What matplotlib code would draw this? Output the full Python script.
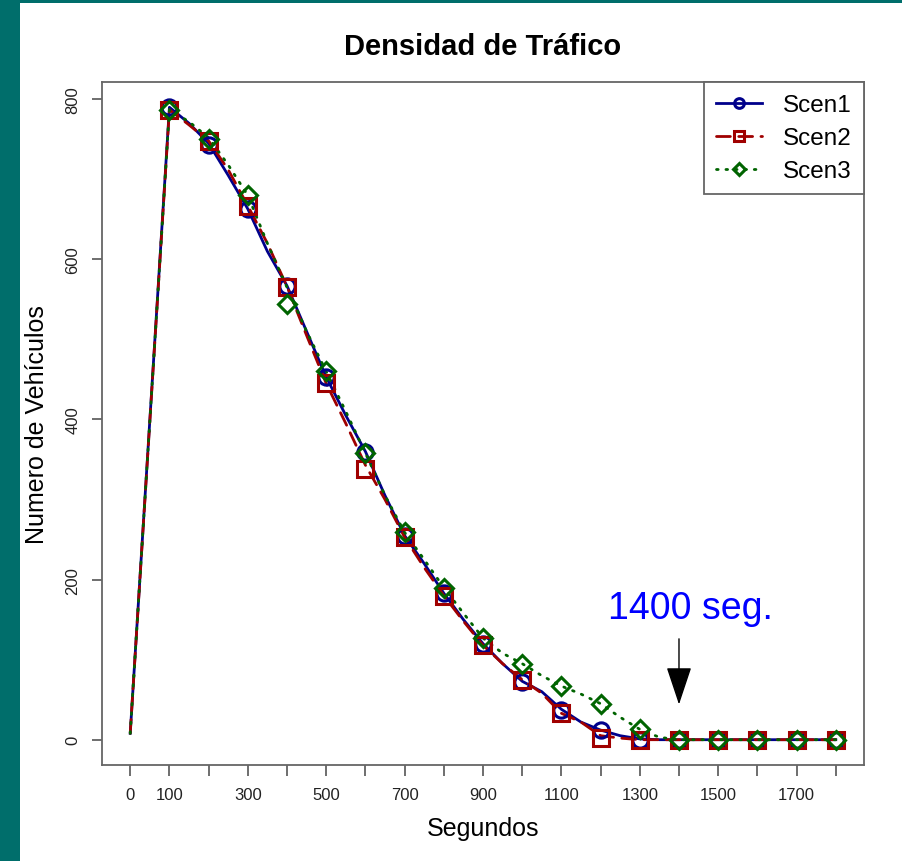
import matplotlib
matplotlib.use("Agg")
import matplotlib.pyplot as plt
from matplotlib.patches import Rectangle

# line data (fine steps)
t_line = [0, 100, 150, 200, 250, 300, 350, 400, 450, 500, 550, 600, 650, 700,
          750, 800, 850, 900, 950, 1000, 1050, 1100, 1150, 1200, 1250, 1300,
          1350, 1400, 1500, 1600, 1700, 1800]
scen1_line = [8, 790, 770, 745, 705, 663, 610, 567, 510, 453, 405, 360, 305, 255,
              220, 183, 150, 120, 95, 73, 60, 38, 22, 12, 5, 1,
              0, 0, 0, 0, 0, 0]
scen2_line = [8, 787, 768, 748, 712, 667, 620, 566, 505, 445, 395, 343, 300, 253,
              215, 180, 148, 118, 95, 75, 58, 33, 22, 5, 2, 0,
              0, 0, 0, 0, 0, 0]
scen3_line = [8, 787, 772, 752, 718, 680, 620, 565, 510, 460, 410, 358, 305, 259,
              225, 190, 158, 127, 108, 95, 80, 67, 57, 45, 28, 13,
              3, 0, 0, 0, 0, 0]

# marker data (every 100 s)
t_mark = [100, 200, 300, 400, 500, 600, 700, 800, 900, 1000, 1100, 1200, 1300,
          1400, 1500, 1600, 1700, 1800]
scen1_mark = [790, 743, 663, 567, 453, 359, 255, 183, 120, 72, 37, 12, 0,
              0, 0, 0, 0, 0]
scen2_mark = [787, 748, 667, 566, 445, 338, 253, 180, 118, 75, 33, 2, 0,
              0, 0, 0, 0, 0]
scen3_mark = [787, 750, 680, 544, 460, 358, 259, 190, 127, 95, 67, 45, 13,
              0, 0, 0, 0, 0]

xticks = list(range(0, 1900, 100))
xtick_labels = ["0", "100", "", "300", "", "500", "", "700", "", "900", "",
                "1100", "", "1300", "", "1500", "", "1700", ""]
yticks = [0, 200, 400, 600, 800]

plt.rcParams["font.family"] = ["Liberation Sans", "DejaVu Sans"]

fig = plt.figure(figsize=(9.03, 8.62), dpi=100)
fig.patch.set_facecolor("#006e6b")
fig.patches.append(Rectangle((20 / 903, 0), 1, (862 - 4) / 862,
                             transform=fig.transFigure, facecolor="white",
                             edgecolor="none", zorder=-10))

ax = fig.add_axes([102 / 903, 1 - 766 / 862, 762 / 903, 683 / 862])

series = [
    (scen1_line, scen1_mark, "darkblue", "-", "o", "Scen1"),
    (scen2_line, scen2_mark, "#a00000", (0, (5, 3)), "s", "Scen2"),
    (scen3_line, scen3_mark, "darkgreen", (0, (0.6, 2.8)), "D", "Scen3"),
]
handles = []
for line_y, mark_y, col, ls, mk, lab in series:
    ax.plot(t_line, line_y, color=col, linestyle=ls, linewidth=2.0,
            dash_capstyle="round", zorder=3)
    ms = 11 if mk != "D" else 9.5
    ax.plot(t_mark, mark_y, linestyle="none", marker=mk, markersize=ms,
            markerfacecolor="none", markeredgecolor=col, markeredgewidth=2.2,
            zorder=4)
    h, = ax.plot([], [], color=col, linestyle=ls, linewidth=2.0,
                 dash_capstyle="round", marker=mk,
                 markersize=7 if mk != "D" else 6.5, markerfacecolor="none",
                 markeredgecolor=col, markeredgewidth=2.2, label=lab)
    handles.append(h)

ax.set_xlim(-72, 1872)
ax.set_ylim(-31.6, 821.6)
ax.set_xticks(xticks)
ax.set_xticklabels(xtick_labels, fontsize=12, color="#222222")
ax.set_yticks(yticks)
ax.set_yticklabels([str(v) for v in yticks], fontsize=12, rotation=90,
                   va="center", color="#222222")
ax.tick_params(axis="x", length=8, width=1.2, color="#555555", pad=8)
ax.tick_params(axis="y", length=7.5, width=1.2, color="#555555", pad=8)
for sp in ax.spines.values():
    sp.set_color("#666666")
    sp.set_linewidth(1.3)

ax.set_title("Densidad de Tráfico", fontsize=21, fontweight="bold", pad=20)
ax.set_xlabel("Segundos", fontsize=18, labelpad=10)
ax.set_ylabel("Numero de Vehículos", fontsize=18, labelpad=12)

leg = ax.legend(handles=handles, loc="upper right", borderaxespad=0,
                fancybox=False, edgecolor="#666666", fontsize=17.5,
                handlelength=1.9, handletextpad=0.85, labelspacing=0.45,
                borderpad=0.5, framealpha=1)
leg.get_frame().set_linewidth(1.3)

ax.text(1430, 165, "1400 seg.", color="blue", fontsize=27, ha="center", va="center")
ax.annotate("", xy=(1400, 44), xytext=(1400, 126),
            arrowprops=dict(arrowstyle="-|>,head_length=1.2,head_width=0.4",
                            mutation_scale=20, color="black", lw=1,
                            shrinkA=0, shrinkB=0))

fig.savefig("out.png", dpi=100, facecolor=fig.get_facecolor())
